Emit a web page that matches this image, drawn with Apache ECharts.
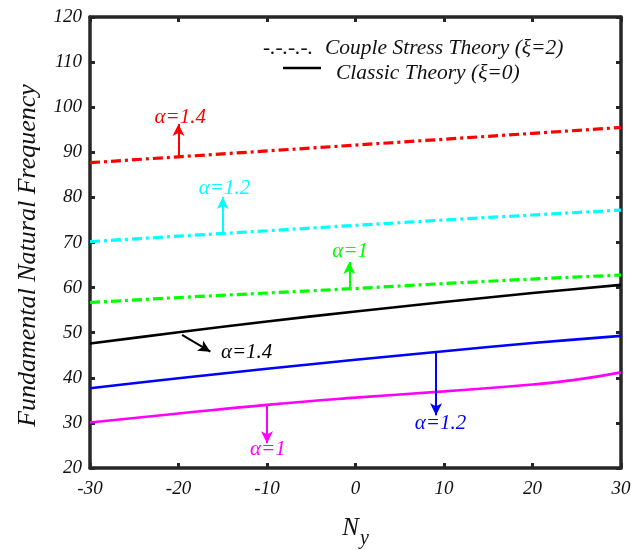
<!DOCTYPE html>
<html>
<head>
<meta charset="utf-8">
<script src="https://cdn.jsdelivr.net/npm/echarts@6/dist/echarts.min.js"></script>
<style>
  html, body { margin: 0; padding: 0; background: #fff; }
  #chart { width: 644px; height: 550px; }
</style>
</head>
<body>
<div id="chart"></div>
<script>
// In-plane load N_y on the horizontal axis
const ny = [-30, -20, -10, 0, 10, 20, 30];
const nyMagenta = [-30, -20, -10, 0, 10, 20, 25, 30];

// Couple stress theory (xi = 2)
const cstAlpha14 = [87.7, 89.0, 90.3, 91.6, 92.9, 94.2, 95.5];
const cstAlpha12 = [70.2, 71.4, 72.6, 73.8, 75.0, 76.1, 77.2];
const cstAlpha10 = [56.7, 57.8, 58.8, 59.8, 60.9, 61.9, 62.8];

// Classic theory (xi = 0)
const clsAlpha14 = [47.6, 50.1, 52.5, 54.7, 56.8, 58.8, 60.6];
const clsAlpha12 = [37.7, 39.9, 42.0, 44.0, 45.9, 47.7, 49.3];
const clsAlpha10 = [30.1, 32.1, 34.0, 35.6, 37.0, 38.5, 39.6, 41.2];

const xTicks = { min: -30, max: 30, step: 10 };
const yTicks = { min: 20, max: 120, step: 10 };

// Annotation arrows: [start N_y, start value, end N_y, end value]
const arrowRed = [-20, 89.0, -20, 96.3];
const arrowCyan = [-15, 72.0, -15, 80.1];
const arrowGreen = [-0.7, 59.8, -0.7, 65.7];
const arrowBlack = [-19.6, 49.5, -16.4, 45.8];
const arrowBlue = [9.1, 45.6, 9.1, 31.7];
const arrowMagenta = [-10, 34.0, -10, 25.5];

// Annotation text anchors: [N_y, value]
const labelRed = [-19.8, 97.8];
const labelCyan = [-14.8, 81.9];
const labelGreen = [-0.6, 67.9];
const labelBlack = [-12.3, 45.6];
const labelBlue = [9.6, 29.8];
const labelMagenta = [-9.9, 24.1];

const FONT = '"Liberation Serif", "Times New Roman", serif';
const AXIS_COLOR = '#262626';
const DASH_DOT = [10, 4, 3, 4];

function pairs(xs, ys) { return xs.map((x, i) => [x, ys[i]]); }

function annotations(color, arrow, label, text) {
  return {
    markLine: {
      silent: true,
      animation: false,
      symbol: ['none', 'arrow'],
      symbolSize: [9, 12],
      label: { show: false },
      lineStyle: { type: 'solid', width: 2, color: color },
      data: [[{ coord: [arrow[0], arrow[1]] }, { coord: [arrow[2], arrow[3]] }]]
    },
    markPoint: {
      silent: true,
      animation: false,
      symbol: 'circle',
      symbolSize: 0,
      itemStyle: { color: 'rgba(0,0,0,0)' },
      label: {
        show: true,
        position: 'inside',
        formatter: text,
        color: color,
        fontFamily: FONT,
        fontStyle: 'italic',
        fontSize: 21
      },
      data: [{ coord: label }]
    }
  };
}

function lineSeries(name, xs, ys, color, dashed, smooth, ann) {
  return Object.assign({
    name: name,
    type: 'line',
    data: pairs(xs, ys),
    showSymbol: false,
    smooth: smooth,
    animation: false,
    lineStyle: { color: color, width: dashed ? 3.2 : 2.6, type: dashed ? DASH_DOT : 'solid' },
    itemStyle: { color: color }
  }, ann);
}

const axisLineStyle = { show: true, onZero: false, lineStyle: { color: AXIS_COLOR, width: 3.5 } };
const tickStyle = { show: true, inside: true, length: 5, lineStyle: { color: AXIS_COLOR, width: 3 } };
const tickLabel = { color: '#111', fontFamily: FONT, fontStyle: 'italic', fontSize: 19 };

const chart = echarts.init(document.getElementById('chart'), null, { renderer: 'canvas' });

chart.setOption({
  backgroundColor: '#fff',
  animation: false,
  grid: { left: 90, right: 23, top: 17, bottom: 82, containLabel: false, outerBoundsMode: 'none' },
  xAxis: [
    {
      type: 'value', position: 'bottom',
      min: xTicks.min, max: xTicks.max, interval: xTicks.step,
      axisLine: axisLineStyle, axisTick: tickStyle,
      axisLabel: Object.assign({ margin: 11 }, tickLabel),
      splitLine: { show: false },
      name: '{n|N}{s|y}',
      nameLocation: 'middle',
      nameGap: 39,
      nameTextStyle: {
        rich: {
          n: { fontFamily: FONT, fontStyle: 'italic', fontSize: 25, color: '#111', padding: [0, 0, 0, 0] },
          s: { fontFamily: FONT, fontStyle: 'italic', fontSize: 20, color: '#111', padding: [22, 0, 0, 1] }
        }
      }
    },
    {
      type: 'value', position: 'top',
      min: xTicks.min, max: xTicks.max, interval: xTicks.step,
      axisLine: axisLineStyle, axisTick: tickStyle,
      axisLabel: { show: false }, splitLine: { show: false }
    }
  ],
  yAxis: [
    {
      type: 'value', position: 'left',
      min: yTicks.min, max: yTicks.max, interval: yTicks.step,
      axisLine: axisLineStyle, axisTick: tickStyle,
      axisLabel: Object.assign({ margin: 8 }, tickLabel),
      splitLine: { show: false },
      name: 'Fundamental Natural Frequency',
      nameLocation: 'middle',
      nameGap: 49,
      nameRotate: 90,
      nameTextStyle: {
        fontFamily: FONT, fontStyle: 'italic', fontSize: 26, color: '#111',
        padding: [0, 26, 0, 0]
      }
    },
    {
      type: 'value', position: 'right',
      min: yTicks.min, max: yTicks.max, interval: yTicks.step,
      axisLine: axisLineStyle, axisTick: tickStyle,
      axisLabel: { show: false }, splitLine: { show: false }
    }
  ],
  series: [
    lineSeries('CST a=1.4', ny, cstAlpha14, '#ff0000', true, false,
      annotations('#ff0000', arrowRed, labelRed, 'α=1.4')),
    lineSeries('CST a=1.2', ny, cstAlpha12, '#00ffff', true, false,
      annotations('#00ffff', arrowCyan, labelCyan, 'α=1.2')),
    lineSeries('CST a=1', ny, cstAlpha10, '#00ff00', true, false,
      annotations('#00ff00', arrowGreen, labelGreen, 'α=1')),
    lineSeries('CT a=1.4', ny, clsAlpha14, '#000000', false, 0.3,
      annotations('#000000', arrowBlack, labelBlack, 'α=1.4')),
    lineSeries('CT a=1.2', ny, clsAlpha12, '#0000ff', false, 0.3,
      annotations('#0000ff', arrowBlue, labelBlue, 'α=1.2')),
    lineSeries('CT a=1', nyMagenta, clsAlpha10, '#ff00ff', false, 0.5,
      annotations('#ff00ff', arrowMagenta, labelMagenta, 'α=1'))
  ],
  graphic: [
    {
      type: 'text', left: 263, top: 37,
      style: { text: '-.-.-.-.', fontFamily: FONT, fontStyle: 'italic', fontSize: 21.5, fill: '#111' }
    },
    {
      type: 'text', left: 325, top: 37,
      style: { text: 'Couple Stress Theory (ξ=2)', fontFamily: FONT, fontStyle: 'italic', fontSize: 21.5, fill: '#111' }
    },
    {
      type: 'line', shape: { x1: 283, y1: 68, x2: 321, y2: 68 },
      style: { stroke: '#000', lineWidth: 2.5 }
    },
    {
      type: 'text', left: 336, top: 62,
      style: { text: 'Classic Theory (ξ=0)', fontFamily: FONT, fontStyle: 'italic', fontSize: 21.5, fill: '#111' }
    }
  ]
});
</script>
</body>
</html>
